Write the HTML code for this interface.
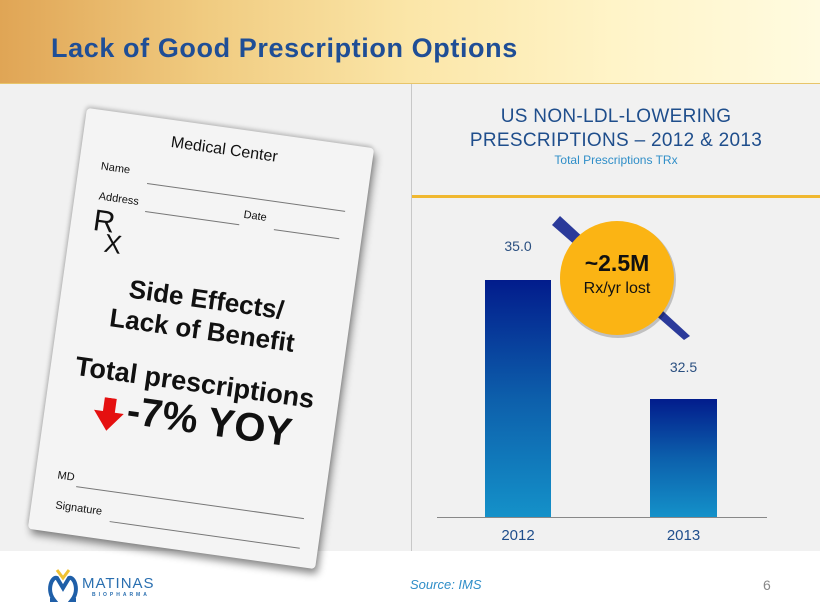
<!DOCTYPE html>
<html><head><meta charset="utf-8"><style>
body{margin:0;width:820px;height:615px;position:relative;overflow:hidden;background:#fff;font-family:"Liberation Sans",sans-serif}
.abs{position:absolute}
#hdr{left:0;top:0;width:820px;height:83px;background:linear-gradient(90deg,#e0a555 0%,#f0cb80 25%,#fbe6a8 50%,#fff4c8 75%,#fffbe0 100%);border-bottom:1px solid #e8c56a}
#panel{left:0;top:84px;width:820px;height:467px;background:#f1f1f1}
#card{left:56px;top:126px;width:290px;height:425px;background:#f4f4f4;transform:rotate(8deg);box-shadow:3px 5px 8px rgba(0,0,0,.45),-1px -2px 4px rgba(0,0,0,.2);border-radius:4px}
#card div{position:absolute;white-space:nowrap;color:#111}
.ln{height:0;border-top:1px solid #777}
</style></head><body>
<div id="hdr" class="abs"></div>
<div class="abs" style="left:51px;top:33px;font-size:27px;font-weight:bold;color:#1f4e96;letter-spacing:0.6px">Lack of Good Prescription Options</div>
<div id="panel" class="abs"></div>
<div class="abs" style="left:411px;top:84px;width:1px;height:467px;background:#c8c8c8"></div>
<div class="abs" style="left:412px;top:195px;width:408px;height:3px;background:#f0b830"></div>
<div class="abs" style="left:412px;top:105px;width:408px;text-align:center;color:#1f4e8c;font-size:19px;line-height:24px;letter-spacing:0.3px">US NON-LDL-LOWERING<br>PRESCRIPTIONS – 2012 &amp; 2013</div>
<div class="abs" style="left:412px;top:153px;width:408px;text-align:center;color:#2f8ec8;font-size:12px">Total Prescriptions TRx</div>

<div id="card" class="abs">
 <div style="left:88px;top:14px;font-size:16px">Medical Center</div>
 <div style="left:22px;top:50px;font-size:11px">Name</div>
 <div class="ln" style="left:70px;top:66px;width:200px"></div>
 <div style="left:24px;top:80px;font-size:11px">Address</div>
 <div class="ln" style="left:72px;top:94px;width:95px"></div>
 <div style="left:170px;top:78px;font-size:11px">Date</div>
 <div class="ln" style="left:202px;top:94px;width:66px"></div>
 <div style="left:22px;top:96px;font-size:30px;line-height:30px">R</div>
 <div style="left:36px;top:118px;font-size:26px;line-height:26px">X</div>
 <div style="left:0;width:290px;text-align:center;top:158px;font-size:26px;font-weight:bold;line-height:31px">Side Effects/<br>Lack of Benefit</div>
 <div style="left:-10px;width:310px;text-align:center;top:242px;font-size:27px;font-weight:bold">Total prescriptions</div>
 <div style="left:48px;top:284px;width:0;height:0"><svg width="32" height="34" style="position:absolute;left:0;top:0"><path d="M10 0 H22 V14 H31 L16 33 L1 14 H10 Z" fill="#e51010"/></svg></div>
 <div style="left:82px;top:272px;font-size:40px;font-weight:bold">-7% YOY</div>
 <div style="left:22px;top:362px;font-size:11px">MD</div>
 <div class="ln" style="left:42px;top:376px;width:230px"></div>
 <div style="left:24px;top:392px;font-size:11px">Signature</div>
 <div class="ln" style="left:80px;top:406px;width:192px"></div>
</div>

<div class="abs" style="left:437px;top:517px;width:330px;height:1px;background:#888"></div>
<div class="abs" style="left:485px;top:280px;width:66px;height:237px;background:linear-gradient(#021c8c,#0d5fab 50%,#1491c9)"></div>
<div class="abs" style="left:650px;top:399px;width:67px;height:118px;background:linear-gradient(#021c8c,#0c60ac 50%,#1491c9)"></div>
<div class="abs" style="left:485px;top:238px;width:66px;text-align:center;font-size:14px;color:#2a4f80">35.0</div>
<div class="abs" style="left:650px;top:359px;width:67px;text-align:center;font-size:14px;color:#2a4f80">32.5</div>
<div class="abs" style="left:485px;top:527px;width:66px;text-align:center;font-size:15px;color:#1f4e8c">2012</div>
<div class="abs" style="left:650px;top:527px;width:67px;text-align:center;font-size:15px;color:#1f4e8c">2013</div>
<svg class="abs" style="left:0;top:0" width="820" height="615">
 <polygon points="552,225 560,216 690,336 684,340" fill="#2b3a9a"/>
 <circle cx="618" cy="280" r="58" fill="#000" opacity=".2"/>
 <circle cx="617" cy="278" r="57" fill="#fbb414"/>
</svg>
<div class="abs" style="left:560px;top:250px;width:114px;text-align:center;font-size:23px;font-weight:bold;color:#111">~2.5M</div>
<div class="abs" style="left:560px;top:280px;width:114px;text-align:center;font-size:16px;color:#111">Rx/yr lost</div>

<svg class="abs" style="left:48px;top:568px" width="30" height="34">
 <path d="M9 2 L15 10 L21 2" stroke="#f1c232" stroke-width="3" fill="none"/>
 <path d="M2 32 L6 32 C-2 22 4 8 9 10 L15 20 L21 10 C26 8 32 22 24 32 L28 32" stroke="#1f5fa8" stroke-width="4" fill="none"/>
</svg>
<div class="abs" style="left:82px;top:575px;font-size:15px;color:#2a6fb0;letter-spacing:1px">MATINAS</div>
<div class="abs" style="left:92px;top:592px;font-size:5px;color:#2a6fb0;letter-spacing:3px;font-weight:bold">BIOPHARMA</div>
<div class="abs" style="left:410px;top:577px;font-size:13px;font-style:italic;color:#2f8ec8">Source:  IMS</div>
<div class="abs" style="left:763px;top:577px;font-size:14px;color:#888">6</div>
</body></html>
